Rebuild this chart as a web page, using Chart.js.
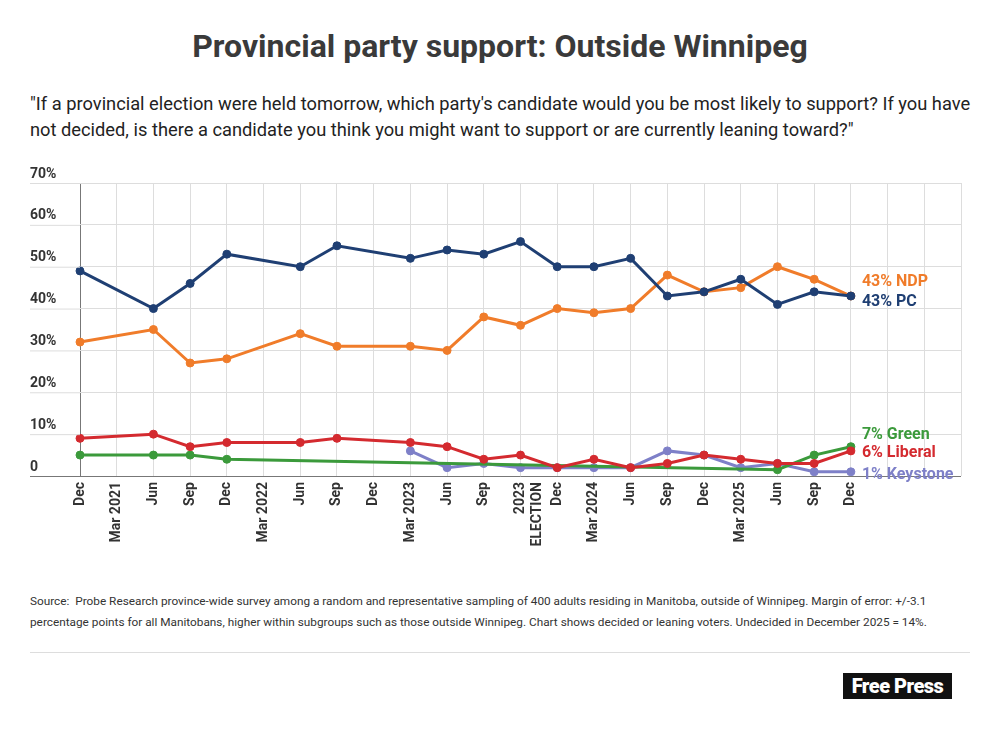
<!DOCTYPE html>
<html>
<head>
<meta charset="utf-8">
<script src="https://cdn.jsdelivr.net/npm/chart.js@4"></script>
<style>
  body { margin: 0; width: 1000px; height: 732px; background: #fff; font-family: Roboto, sans-serif; position: relative; overflow: hidden; }
  h1 { position: absolute; top: 27px; left: 0; width: 1000px; margin: 0; text-align: center; font-size: 32px; font-weight: 700; color: #3a3a3a; }
  #sub { position: absolute; top: 91px; left: 30px; width: 945px; font-size: 18.3px; line-height: 26px; color: #222; }
  #chartBox { position: absolute; left: 0; top: 160px; width: 1000px; height: 400px; }
  #src { position: absolute; top: 591px; left: 30px; width: 945px; font-size: 11.8px; line-height: 21px; color: #333; }
  #rule { position: absolute; top: 652px; left: 30px; width: 940px; border-top: 1px solid #ddd; }
  #logo { position: absolute; top: 673px; left: 843px; width: 109px; height: 26px; background: #111; color: #fff; font-weight: 900; font-size: 20px; line-height: 26px; text-align: center; letter-spacing: -0.5px; }
</style>
</head>
<body>
<h1>Provincial party support: Outside Winnipeg</h1>
<div id="sub">"If a provincial election were held tomorrow, which party's candidate would you be most likely to support? If you have not decided, is there a candidate you think you might want to support or are currently leaning toward?"</div>
<div id="chartBox"><canvas id="chart"></canvas></div>
<div id="src">Source:&nbsp; Probe Research province-wide survey among a random and representative sampling of 400 adults residing in Manitoba, outside of Winnipeg. Margin of error: +/-3.1 percentage points for all Manitobans, higher within subgroups such as those outside Winnipeg. Chart shows decided or leaning voters. Undecided in December 2025 = 14%.</div>
<div id="rule"></div>
<div id="logo">Free Press</div>
<script>
// categories (three blank slots on the right leave room for end labels)
let labels = ["Dec", "Mar 2021", "Jun", "Sep", "Dec", "Mar 2022", "Jun", "Sep", "Dec", "Mar 2023", "Jun", "Sep",
    ["2023", "ELECTION"], "Dec", "Mar 2024", "Jun", "Sep", "Dec", "Mar 2025", "Jun", "Sep", "Dec", "", "", ""]

let pc = [49, null, 40, 46, 53, null, 50, 55, null, 52, 54, 53, 56, 50, 50, 52, 43, 44, 47, 41, 44, 43]
let ndp = [32, null, 35, 27, 28, null, 34, 31, null, 31, 30, 38, 36, 40, 39, 40, 48, 44, 45, 50, 47, 43]
let liberal = [9, null, 10, 7, 8, null, 8, 9, null, 8, 7, 4, 5, 2, 4, 2, 3, 5, 4, 3, 3, 6]
let green = [5, null, 5, 5, 4, null, null, null, null, null, null, null, null, null, null, null, null, null, null, 1.5, 5, 7]
let keystone = [null, null, null, null, null, null, null, null, null, 6, 2, 3, 2, 2, 2, 2, 6, 5, 2, 3, 1, 1]

let yTicks = [0, 10, 20, 30, 40, 50, 60, 70]

let endLabels = [
    { text: "43% NDP", color: "#f07c2a", ds: 1, dy: -14 },
    { text: "43% PC", color: "#1f3f73", ds: 0, dy: 6 },
    { text: "7% Green", color: "#3b9a3b", ds: 3, dy: -12 },
    { text: "6% Liberal", color: "#d42a2f", ds: 2, dy: 2 },
    { text: "1% Keystone", color: "#7e80c8", ds: 4, dy: 3 }
]

function series(label, data, color) {
    return {
        label: label, data: data, borderColor: color, backgroundColor: color,
        borderWidth: 3, pointRadius: 4, pointBorderColor: color, pointBorderWidth: 1,
        spanGaps: true, tension: 0
    }
}

const extras = {
    id: "extras",
    afterDraw(chart) {
        let ctx = chart.ctx
        let y = chart.scales.y
        let area = chart.chartArea
        ctx.save()
        ctx.font = "bold 14px Roboto"
        ctx.fillStyle = "#333"
        ctx.textBaseline = "bottom"
        yTicks.forEach(v => {
            let py = y.getPixelForValue(v)
            ctx.strokeStyle = v == 0 ? "#777" : "#ddd"
            ctx.lineWidth = 1
            ctx.beginPath()
            ctx.moveTo(30, py + 0.5)
            ctx.lineTo(area.left, py + 0.5)
            ctx.stroke()
            ctx.fillText(v == 0 ? "0" : v + "%", 30, py - 2)
        })
        ctx.font = "bold 16px Roboto"
        ctx.textBaseline = "middle"
        endLabels.forEach(l => {
            let meta = chart.getDatasetMeta(l.ds)
            let pt = meta.data[21]
            ctx.fillStyle = l.color
            ctx.fillText(l.text, pt.x + 11, pt.y + l.dy)
        })
        ctx.restore()
    }
}

let chart = new Chart(document.getElementById("chart"), {
    type: "line",
    data: {
        labels: labels,
        datasets: [
            series("PC", pc, "#1f3f73"),
            series("NDP", ndp, "#f07c2a"),
            series("Liberal", liberal, "#d42a2f"),
            series("Green", green, "#3b9a3b"),
            series("Keystone", keystone, "#7e80c8")
        ]
    },
    options: {
        responsive: true,
        maintainAspectRatio: false,
        animation: false,
        layout: { padding: { left: 80, right: 39, top: 23, bottom: 0 } },
        plugins: { legend: { display: false }, tooltip: { enabled: false } },
        scales: {
            x: {
                offset: false,
                grid: { color: ctx => ctx.index == 0 ? "#777" : "#ddd", drawTicks: false },
                border: { display: false },
                afterFit: s => { s.height = 84 },
                ticks: {
                    maxRotation: 90, minRotation: 90, autoSkip: false, padding: 6,
                    color: "#333", font: { family: "Roboto", weight: "bold", size: 14 }
                }
            },
            y: {
                min: 0, max: 70,
                ticks: { display: false, stepSize: 10 },
                grid: { color: ctx => ctx.tick && ctx.tick.value == 0 ? "#777" : "#ddd", drawTicks: false },
                border: { display: false }
            }
        }
    },
    plugins: [extras]
})
</script>
</body>
</html>
